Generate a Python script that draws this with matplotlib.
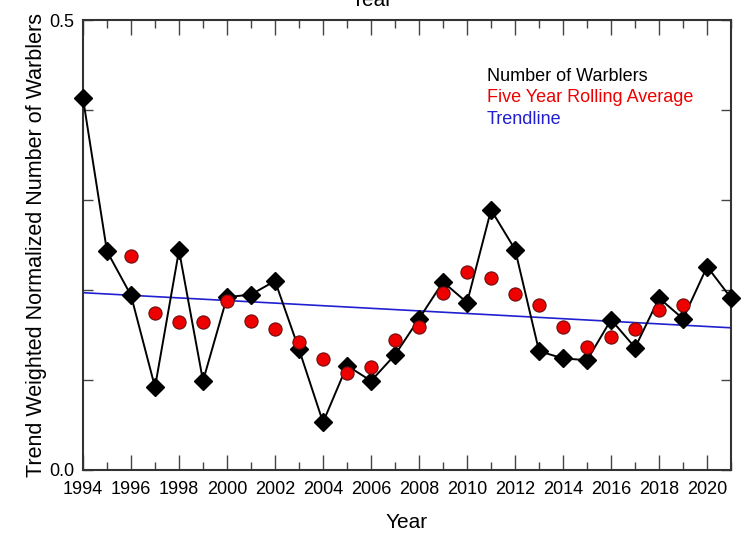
import numpy as np
import matplotlib
matplotlib.use('Agg')
import matplotlib.pyplot as plt
from matplotlib.ticker import MultipleLocator

plt.rcParams['font.family'] = ['Liberation Sans', 'DejaVu Sans']

# data
years = list(range(1994, 2022))
warblers = [0.413, 0.243, 0.194, 0.092, 0.244, 0.099, 0.192, 0.195, 0.210, 0.134,
            0.053, 0.116, 0.099, 0.128, 0.168, 0.209, 0.186, 0.289, 0.245, 0.132,
            0.124, 0.122, 0.167, 0.136, 0.191, 0.168, 0.226, 0.191]
avg_years = list(range(1996, 2020))
rolling_avg = [0.238, 0.174, 0.164, 0.164, 0.188, 0.166, 0.157, 0.142, 0.123, 0.108,
               0.114, 0.145, 0.159, 0.197, 0.220, 0.213, 0.196, 0.183, 0.159, 0.137,
               0.148, 0.157, 0.178, 0.183]
trend_years = [1994, 2021]
trend_vals = [0.197, 0.158]

fig = plt.figure(figsize=(7.43, 5.35), dpi=100)
ax = fig.add_axes([0.1117, 0.1215, 0.8723, 0.8411])

ax.plot(trend_years, trend_vals, color='#2020d0', lw=1.2, zorder=2)
ax.plot(years, warblers, color='black', lw=1.4, marker='D', markersize=9.5,
        markerfacecolor='black', markeredgecolor='black', zorder=3, clip_on=False)
ax.plot(avg_years, rolling_avg, ls='none', marker='o', markersize=9.5,
        markerfacecolor='#ee0000', markeredgecolor='#661111', markeredgewidth=0.8,
        zorder=4)

ax.set_xlim(1994, 2021)
ax.set_ylim(0, 0.5)
ax.xaxis.set_major_locator(MultipleLocator(2))
ax.xaxis.set_minor_locator(MultipleLocator(1))
ax.set_yticks([0.0, 0.1, 0.2, 0.3, 0.4, 0.5])
ax.set_yticklabels(['0.0', '', '', '', '', '0.5'])
ax.tick_params(axis='both', which='both', direction='in', top=True, right=True,
               labelsize=13, color='#444444', width=1.0)
ax.tick_params(axis='x', which='major', length=11, pad=8)
ax.tick_params(axis='x', which='minor', length=6)
ax.tick_params(axis='y', which='major', length=7, pad=6)
for s in ax.spines.values():
    s.set_linewidth(1.5)
    s.set_color('#333333')

ax.set_xlabel('Year', fontsize=15, labelpad=11)
ax.set_ylabel('Trend Weighted Normalized Number of Warblers', fontsize=15.5, labelpad=2)
fig.text(0.5, 1.0, 'Year', ha='center', va='center', fontsize=15)

ax.text(0.623, 0.865, 'Number of Warblers', transform=ax.transAxes, color='black', fontsize=13)
ax.text(0.623, 0.817, 'Five Year Rolling Average', transform=ax.transAxes, color='#ee0000', fontsize=13)
ax.text(0.623, 0.769, 'Trendline', transform=ax.transAxes, color='#2020d0', fontsize=13)

fig.savefig('out.png', dpi=100)
